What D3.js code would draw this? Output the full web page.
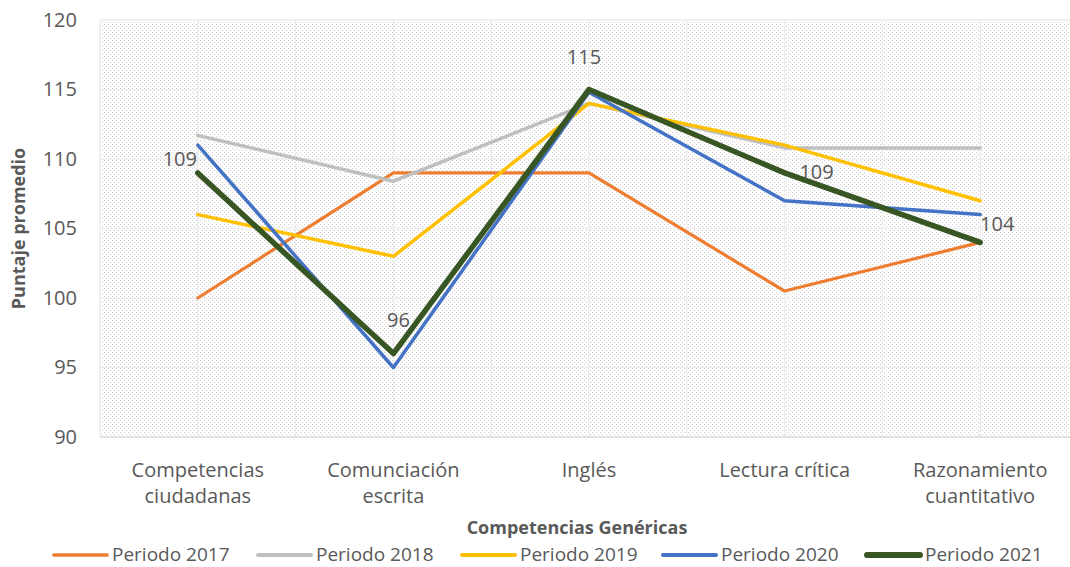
<!DOCTYPE html>
<html><head><meta charset="utf-8">
<script src="https://cdn.jsdelivr.net/npm/d3@7"></script>
<style>body{margin:0;background:#fff}svg{display:block}text{font-family:"Open Sans",Lato,sans-serif}</style>
</head><body><svg id="c" width="1070" height="567"></svg>
<script>
const categories = [["Competencias","ciudadanas"],["Comunciación","escrita"],["Inglés"],["Lectura crítica"],["Razonamiento","cuantitativo"]];
const seriesNames = ["Periodo 2017","Periodo 2018","Periodo 2019","Periodo 2020","Periodo 2021"];
const p2017 = [100, 109, 109, 100.5, 104];
const p2018 = [111.7, 108.4, 114, 110.8, 110.8];
const p2019 = [106, 103, 114, 111, 107];
const p2020 = [111, 95, 114.8, 107, 106];
const p2021 = [109, 96, 115, 109, 104];
const labels2021 = ["109","96","115","109","104"];
const yTicks = [90,95,100,105,110,115,120];

const colors = ["#ED7D31","#BFBFBF","#FFC000","#4472C4","#375623"];
const widths = [3.2,3.5,3.5,3.5,5.5];
const series = [p2017,p2018,p2019,p2020,p2021];

const svg = d3.select("#c");
const L=100, R=1078, T=20, B=437;
const x = d3.scalePoint().domain(d3.range(categories.length)).range([L,R]).padding(0.5);
const y = d3.scaleLinear().domain([90,120]).range([B,T]);

const defs = svg.append("defs");
const pat = defs.append("pattern").attr("id","hatch").attr("patternUnits","userSpaceOnUse").attr("width",4).attr("height",4);
pat.append("rect").attr("width",4).attr("height",4).attr("fill","#fff");
pat.append("rect").attr("x",0).attr("y",0).attr("width",1).attr("height",1).attr("fill","#cdcdcd");
pat.append("rect").attr("x",2).attr("y",2).attr("width",1).attr("height",1).attr("fill","#cdcdcd");

svg.append("rect").attr("x",L).attr("y",T).attr("width",1070-L).attr("height",B-T).attr("fill","url(#hatch)");

// gridlines
const step = x.step();
const vg = d3.range(0, categories.length*2+1).map(i=>L+i*step/2).filter(v=>v<1070);
svg.append("g").selectAll("line").data(vg).join("line")
  .attr("x1",d=>d).attr("x2",d=>d).attr("y1",T).attr("y2",B).attr("stroke","#eeeeee").attr("stroke-width",1.5);
svg.append("g").selectAll("line").data(yTicks.slice(1)).join("line")
  .attr("x1",L).attr("x2",1070).attr("y1",d=>y(d)).attr("y2",d=>y(d)).attr("stroke","#eeeeee").attr("stroke-width",1.5);
svg.append("line").attr("x1",L).attr("x2",1070).attr("y1",B).attr("y2",B).attr("stroke","#d9d9d9").attr("stroke-width",1.5);

// y axis
const ya = svg.append("g").attr("transform",`translate(${L},0)`).call(d3.axisLeft(y).tickValues(yTicks).tickSize(0).tickPadding(23));
ya.select(".domain").remove();
ya.selectAll("text").attr("fill","#595959").style("font-size","20px").style("font-family","'Open Sans',sans-serif");

// x axis labels
const xg = svg.append("g");
categories.forEach((c,i)=>{
  const t = xg.append("text").attr("x",x(i)).attr("y",477).attr("text-anchor","middle").attr("fill","#595959").style("font-size","20px");
  c.forEach((s,j)=>t.append("tspan").attr("x",x(i)).attr("dy",j?26:0).text(s));
});

// lines
const line = d3.line().x((d,i)=>x(i)).y(d=>y(d));
series.forEach((s,k)=>{
  svg.append("path").datum(s).attr("d",line).attr("fill","none").attr("stroke",colors[k])
    .attr("stroke-width",widths[k]).attr("stroke-linejoin","round").attr("stroke-linecap","round");
});

// data labels for 2021
const lblOff = [[-18,-7],[5,-27],[-5,-26],[32,6],[17,-11]];
svg.append("g").selectAll("text").data(p2021).join("text")
  .attr("x",(d,i)=>x(i)+lblOff[i][0]).attr("y",(d,i)=>y(d)+lblOff[i][1])
  .attr("text-anchor","middle").attr("fill","#595959").style("font-size","20px").text((d,i)=>labels2021[i]);

// axis titles
svg.append("text").attr("transform",`translate(25,${(T+B)/2}) rotate(-90)`).attr("text-anchor","middle")
  .attr("fill","#595959").style("font-size","18px").style("font-weight","bold").text("Puntaje promedio");
svg.append("text").attr("x",577).attr("y",534).attr("text-anchor","middle")
  .attr("fill","#595959").style("font-size","18px").style("font-weight","bold").text("Competencias Genéricas");

// legend
const legX = [54,258,462,663,867];
const lg = svg.append("g");
seriesNames.forEach((n,k)=>{
  lg.append("line").attr("x1",legX[k]).attr("x2",legX[k]+53).attr("y1",555).attr("y2",555)
    .attr("stroke",colors[k]).attr("stroke-width",widths[k]+0.5).attr("stroke-linecap","round");
  lg.append("text").attr("x",legX[k]+58).attr("y",561).attr("fill","#595959").style("font-size","19px").text(n);
});
</script></body></html>
